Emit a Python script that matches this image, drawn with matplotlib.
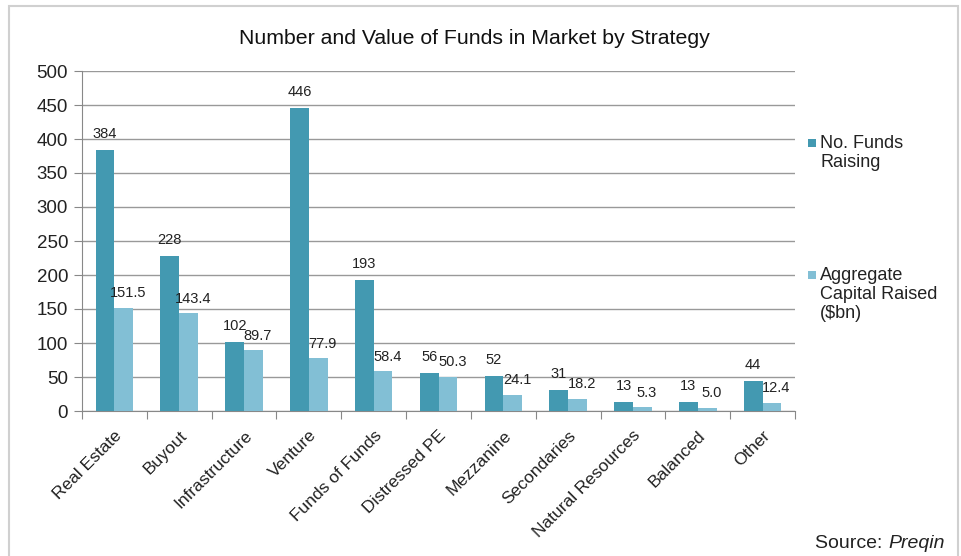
import matplotlib
matplotlib.use("Agg")
import matplotlib.pyplot as plt
from matplotlib.patches import Rectangle
import numpy as np

plt.rcParams['font.family'] = ['Liberation Sans', 'DejaVu Sans']

categories = ["Real Estate", "Buyout", "Infrastructure", "Venture", "Funds of Funds",
              "Distressed PE", "Mezzanine", "Secondaries", "Natural Resources", "Balanced", "Other"]
num_funds = [384, 228, 102, 446, 193, 56, 52, 31, 13, 13, 44]
capital = [151.5, 143.4, 89.7, 77.9, 58.4, 50.3, 24.1, 18.2, 5.3, 5.0, 12.4]
num_labels = ["384", "228", "102", "446", "193", "56", "52", "31", "13", "13", "44"]
cap_labels = ["151.5", "143.4", "89.7", "77.9", "58.4", "50.3", "24.1", "18.2", "5.3", "5.0", "12.4"]
series_names = ["No. Funds\nRaising", "Aggregate\nCapital Raised\n($bn)"]

c_dark = "#4399B1"
c_light = "#82BFD5"

fig = plt.figure(figsize=(9.61, 5.56), dpi=100)
W, H = 961, 556
ax = fig.add_axes([82 / W, 1 - 411 / H, (795 - 82) / W, (411 - 71) / H])

# outer frame
fig.patches.append(Rectangle((9 / W, -0.1), (958 - 9) / W, 1.1 - 6 / H,
                             transform=fig.transFigure, fill=False,
                             edgecolor="#D0D0D0", linewidth=1.5, zorder=0))

x = np.arange(len(categories))
bw = 0.29
b1 = ax.bar(x - bw / 2, num_funds, bw, color=c_dark, zorder=3)
b2 = ax.bar(x + bw / 2, capital, bw, color=c_light, zorder=3)

for i in range(len(categories)):
    ax.text(x[i] - bw / 2, num_funds[i] + 13, num_labels[i], ha="center", va="bottom",
            fontsize=10.5, color="#222222", zorder=4)
    ax.text(x[i] + bw / 2 + 0.07, capital[i] + 11, cap_labels[i], ha="center", va="bottom",
            fontsize=10.5, color="#222222", zorder=4)

ax.set_xlim(-0.5, len(categories) - 0.5)
ax.set_ylim(0, 500)
ax.set_yticks(np.arange(0, 501, 50))
ax.tick_params(axis="y", labelsize=13.5, length=6, color="#888888", pad=4, labelcolor="#222222")
ax.yaxis.grid(True, color="#999999", linewidth=1, zorder=0)
ax.set_axisbelow(True)

ax.set_xticks(np.arange(-0.5, len(categories), 1.0), minor=False)
ax.set_xticklabels([])
ax.tick_params(axis="x", length=6, color="#888888", direction="out")
ax.set_xticks(x, minor=True)
ax.set_xticklabels(categories, minor=True, rotation=45, ha="right", rotation_mode="anchor",
                   fontsize=12.5, color="#222222")
ax.tick_params(axis="x", which="minor", length=0, pad=12)

for s in ["top", "right"]:
    ax.spines[s].set_visible(False)
ax.spines["left"].set_color("#888888")
ax.spines["bottom"].set_color("#888888")

fig.text(474 / W, 1 - 38 / H, "Number and Value of Funds in Market by Strategy",
         ha="center", va="center", fontsize=15.3, color="#111111")

# legend (square aligned with first line of text)
leg_y = [135, 267]
for yy, col, name in zip(leg_y, [c_dark, c_light], series_names):
    fig.patches.append(Rectangle((808 / W, 1 - (yy + 12) / H), 8 / W, 8 / H,
                                 transform=fig.transFigure, facecolor=col, edgecolor="none"))
    fig.text(820 / W, 1 - yy / H, name, ha="left", va="top", fontsize=13,
             color="#222222", linespacing=1.15)

fig.text(888 / W, 1 - 544 / H, "Source: ", ha="right", va="center", fontsize=14, color="#222222")
fig.text(888 / W, 1 - 544 / H, "Preqin", ha="left", va="center", fontsize=14,
         style="italic", color="#222222")

fig.savefig("out.png", dpi=100)
